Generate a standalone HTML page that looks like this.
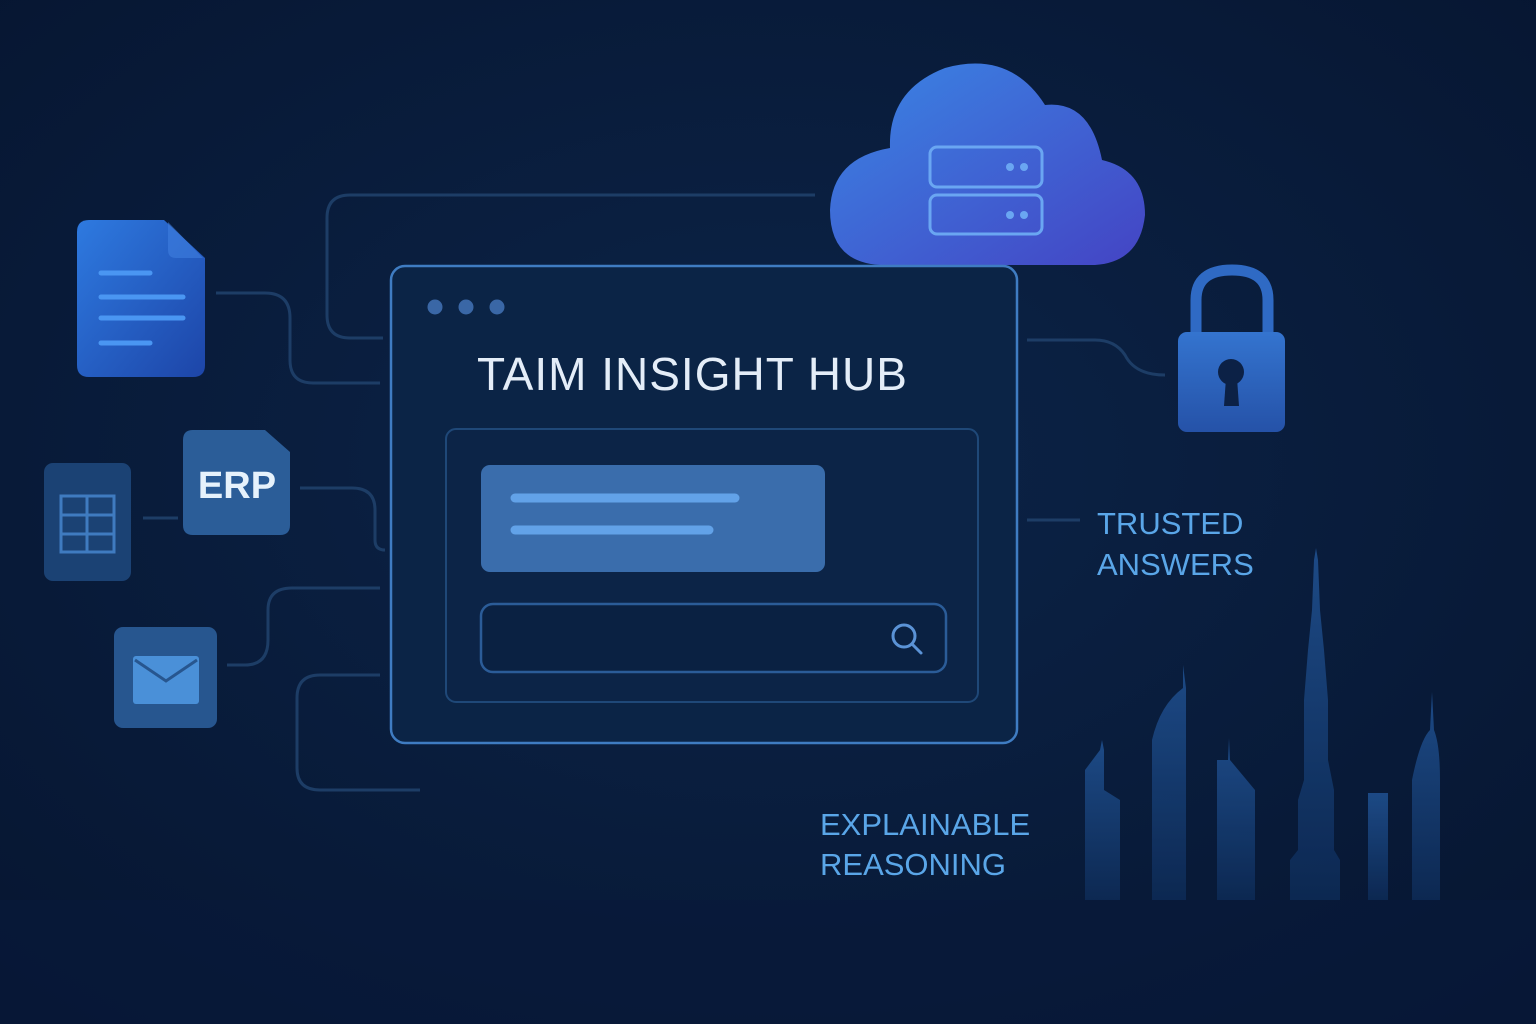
<!DOCTYPE html>
<html><head><meta charset="utf-8"><style>
html,body{margin:0;padding:0;background:#071a36;}
svg{display:block}
text{font-family:"Liberation Sans","DejaVu Sans",sans-serif;}
</style></head><body>
<svg width="1536" height="1024" viewBox="0 0 1536 1024" xmlns="http://www.w3.org/2000/svg">
<defs>
<radialGradient id="bg" cx="0.5" cy="0.45" r="0.75">
<stop offset="0" stop-color="#0c2448"/><stop offset="1" stop-color="#061530"/>
</radialGradient>
<linearGradient id="cloud" x1="0" y1="0" x2="1" y2="1">
<stop offset="0" stop-color="#3a86e4"/><stop offset="1" stop-color="#4444c4"/>
</linearGradient>
<linearGradient id="doc" x1="0" y1="0" x2="1" y2="1">
<stop offset="0" stop-color="#2e7ae0"/><stop offset="1" stop-color="#1d45a8"/>
</linearGradient>
<linearGradient id="lock" x1="0" y1="0" x2="0" y2="1">
<stop offset="0" stop-color="#3474cf"/><stop offset="1" stop-color="#2552a8"/>
</linearGradient>
<linearGradient id="bldg" x1="0" y1="0" x2="0" y2="1">
<stop offset="0" stop-color="#1f4f8e"/><stop offset="1" stop-color="#0d2a55"/>
</linearGradient>
</defs>
<rect width="1536" height="1024" fill="url(#bg)"/>

<!-- skyline -->
<g fill="url(#bldg)" opacity="0.9">
<path d="M1085 900 V770 L1100 750 L1102 740 L1104 750 V790 L1120 800 V900Z"/>
<path d="M1152 900 V740 Q1160 705 1183 688 V665 L1186 688 V900Z"/>
<path d="M1217 900 V760 L1228 760 L1229 738 L1230 760 L1255 790 V900Z"/>
<path d="M1290 900 V860 L1298 850 V800 L1304 780 V700 L1308 650 L1312 610 L1314 560 L1316 548 L1318 560 L1320 610 L1324 650 L1328 700 V760 L1334 790 V850 L1340 860 V900Z"/>
<path d="M1368 900 V793 H1388 V900Z"/>
<path d="M1412 900 V780 Q1420 740 1430 730 L1432 692 L1434 730 Q1440 745 1440 780 V900Z"/>
</g>
<rect x="0" y="900" width="1536" height="124" fill="#08193a" opacity="0.6"/>

<!-- connectors -->
<g fill="none" stroke="#1d3d66" stroke-width="3">
<path d="M815 195 H350 Q327 195 327 218 V315 Q327 338 350 338 H383"/>
<path d="M216 293 H265 Q290 293 290 318 V360 Q290 383 313 383 H380"/>
<path d="M300 488 H352 Q375 488 375 510 V540 Q375 550 385 550"/>
<path d="M143 518 H178"/>
<path d="M227 665 H245 Q268 665 268 640 V610 Q268 588 292 588 H380"/>
<path d="M380 675 H320 Q297 675 297 698 V768 Q297 790 320 790 H420"/>
<path d="M1027 340 H1095 Q1115 340 1125 355 Q1135 375 1165 375"/>
<path d="M1027 520 H1080"/>
</g>

<!-- cloud -->
<path d="M880 265 Q830 262 830 210 Q832 158 890 148 Q888 90 945 68 Q1010 50 1045 105 Q1090 100 1102 160 Q1145 170 1145 215 Q1140 262 1095 265Z" fill="url(#cloud)"/>
<g fill="none" stroke="#6aa6f2" stroke-width="3">
<rect x="930" y="147" width="112" height="40" rx="7"/>
<rect x="930" y="195" width="112" height="39" rx="7"/>
</g>
<g fill="#6aa6f2"><circle cx="1010" cy="167" r="4"/><circle cx="1024" cy="167" r="4"/><circle cx="1010" cy="215" r="4"/><circle cx="1024" cy="215" r="4"/></g>

<!-- main window -->
<rect x="391" y="266" width="626" height="477" rx="14" fill="#0b2446" stroke="#3f7cc2" stroke-width="2.5"/>
<g fill="#3a67a6"><circle cx="435" cy="307" r="7.5"/><circle cx="466" cy="307" r="7.5"/><circle cx="497" cy="307" r="7.5"/></g>
<text x="477" y="390" font-size="46" font-weight="500" fill="#e4edf8" letter-spacing="1">TAIM INSIGHT HUB</text>
<rect x="446" y="429" width="532" height="273" rx="10" fill="#0c2447" stroke="#1f4878" stroke-width="2"/>
<rect x="481" y="465" width="344" height="107" rx="9" fill="#3a6dac"/>
<g stroke="#62a2e8" stroke-width="9" stroke-linecap="round"><path d="M515 498 H735"/><path d="M515 530 H709"/></g>
<rect x="481" y="604" width="465" height="68" rx="12" fill="#0a2142" stroke="#2b5c98" stroke-width="2.5"/>
<circle cx="904" cy="636" r="11" fill="none" stroke="#5b93d6" stroke-width="3"/>
<path d="M912 644 L921 653" stroke="#5b93d6" stroke-width="3" stroke-linecap="round"/>

<!-- lock -->
<path d="M1196 335 V300 Q1196 270 1232 270 Q1268 270 1268 300 V335" fill="none" stroke="#2f6ac4" stroke-width="11"/>
<rect x="1178" y="332" width="107" height="100" rx="9" fill="url(#lock)"/>
<circle cx="1231" cy="372" r="13" fill="#0c2146"/>
<path d="M1226 378 H1237 L1239 406 H1224Z" fill="#0c2146"/>

<!-- doc -->
<path d="M89 220 H164 L205 258 V365 Q205 377 193 377 H89 Q77 377 77 365 V232 Q77 220 89 220Z" fill="url(#doc)"/>
<path d="M168 222 V250 Q168 258 176 258 H203Z" fill="#3f7ee0" opacity="0.6"/>
<g stroke="#4a96f2" stroke-width="5" stroke-linecap="round"><path d="M101 273 H150"/><path d="M101 297 H183"/><path d="M101 318 H183"/><path d="M101 343 H150"/></g>

<!-- ERP -->
<path d="M193 430 H265 L290 452 V525 Q290 535 280 535 H193 Q183 535 183 525 V440 Q183 430 193 430Z" fill="#2b5d98"/>
<text x="237" y="498" font-size="38" font-weight="bold" fill="#e6f2fc" text-anchor="middle">ERP</text>

<!-- grid -->
<rect x="44" y="463" width="87" height="118" rx="9" fill="#1b4274"/>
<g fill="none" stroke="#3f7bc0" stroke-width="3"><rect x="61" y="496" width="53" height="56"/><path d="M87 496 V552 M61 515 H114 M61 534 H114"/></g>

<!-- mail -->
<rect x="114" y="627" width="103" height="101" rx="9" fill="#27568f"/>
<rect x="133" y="656" width="66" height="48" rx="3" fill="#4a90d8"/>
<path d="M135 660 L166 681 L197 660" fill="none" stroke="#27568f" stroke-width="3"/>

<!-- labels -->
<g font-size="31" font-weight="500" fill="#5aa6e8">
<text x="1097" y="534">TRUSTED</text>
<text x="1097" y="575">ANSWERS</text>
<text x="820" y="835">EXPLAINABLE</text>
<text x="820" y="875">REASONING</text>
</g>
</svg>
</body></html>
